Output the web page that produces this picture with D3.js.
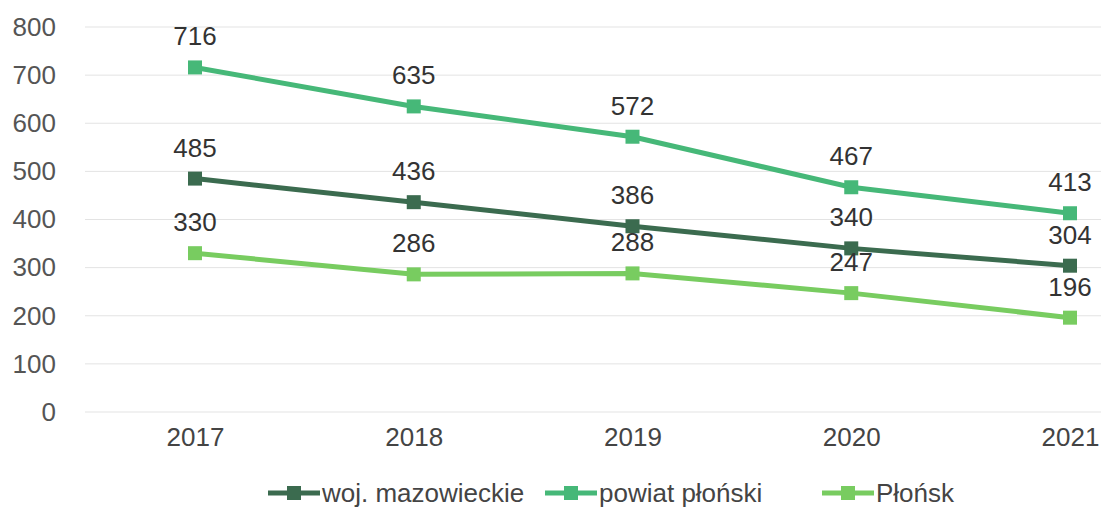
<!DOCTYPE html>
<html>
<head>
<meta charset="utf-8">
<script src="https://cdn.jsdelivr.net/npm/d3@7"></script>
<style>
  body { margin: 0; background: #fff; }
  svg { font-family: "Liberation Sans", Arial, sans-serif; }
</style>
</head>
<body>
<div id="chart"></div>
<script>
var years = ["2017", "2018", "2019", "2020", "2021"];
var seriesNames = ["woj. mazowieckie", "powiat płoński", "Płońsk"];
var wojValues = [485, 436, 386, 340, 304];
var powiatValues = [716, 635, 572, 467, 413];
var plonskValues = [330, 286, 288, 247, 196];
var yTicks = [0, 100, 200, 300, 400, 500, 600, 700, 800];

var colors = ["#3b6b4f", "#46b878", "#78cc60"];
var allValues = [wojValues, powiatValues, plonskValues];

var W = 1101, H = 510;
var plotLeft = 85, plotRight = 1101;
var plotTop = 27, plotBottom = 412;
var fontSize = "26px";

var x = d3.scalePoint()
	.domain(years)
	.range([195, 1070]);
var y = d3.scaleLinear()
	.domain([0, 800])
	.range([plotBottom, plotTop]);

var svg = d3.select("#chart").append("svg")
	.attr("width", W)
	.attr("height", H);

// Gridlines
svg.append("g").selectAll("line")
	.data(yTicks)
	.enter()
	.append("line")
	.attr("x1", plotLeft)
	.attr("x2", plotRight)
	.attr("y1", function(d) { return y(d); })
	.attr("y2", function(d) { return y(d); })
	.style("stroke", "#e3e3e3")
	.style("stroke-width", 1);

// Y axis labels
var yAxis = svg.append("g")
	.attr("transform", "translate(56,0)")
	.call(d3.axisLeft(y).tickValues(yTicks).tickSize(0).tickPadding(0));
yAxis.select(".domain").remove();
yAxis.selectAll("text")
	.style("font-size", fontSize)
	.style("fill", "#555")
	.style("font-family", "Liberation Sans, Arial, sans-serif");

// X axis labels
var xAxis = svg.append("g")
	.attr("transform", "translate(0," + (plotBottom + 10) + ")")
	.call(d3.axisBottom(x).tickSize(0).tickPadding(6));
xAxis.select(".domain").remove();
xAxis.selectAll("text")
	.style("font-size", fontSize)
	.style("fill", "#444")
	.style("font-family", "Liberation Sans, Arial, sans-serif");

var line = d3.line()
	.x(function(d, i) { return x(years[i]); })
	.y(function(d) { return y(d); });

// Lines, markers and value labels
allValues.forEach(function(vals, s) {
	var g = svg.append("g");
	g.append("path")
		.attr("fill", "none")
		.attr("stroke", colors[s])
		.attr("stroke-width", 5)
		.attr("d", line(vals));
	g.selectAll("rect")
		.data(vals)
		.enter()
		.append("rect")
		.attr("x", function(d, i) { return x(years[i]) - 7; })
		.attr("y", function(d) { return y(d) - 7; })
		.attr("width", 14)
		.attr("height", 14)
		.attr("fill", colors[s]);
	g.selectAll("text")
		.data(vals)
		.enter()
		.append("text")
		.attr("x", function(d, i) { return x(years[i]); })
		.attr("y", function(d) { return y(d) - 22; })
		.attr("text-anchor", "middle")
		.style("font-size", fontSize)
		.style("fill", "#333")
		.text(function(d) { return d; });
});

// Legend
var legendX = [268, 545, 822];
var legend = svg.append("g")
	.attr("transform", "translate(0,493)");
seriesNames.forEach(function(name, s) {
	var item = legend.append("g")
		.attr("transform", "translate(" + legendX[s] + ",0)");
	item.append("line")
		.attr("x1", 0)
		.attr("x2", 52)
		.attr("y1", 0)
		.attr("y2", 0)
		.attr("stroke", colors[s])
		.attr("stroke-width", 5);
	item.append("rect")
		.attr("x", 19)
		.attr("y", -7)
		.attr("width", 14)
		.attr("height", 14)
		.attr("fill", colors[s]);
	item.append("text")
		.attr("x", 54)
		.attr("y", 9)
		.style("font-size", fontSize)
		.style("fill", "#444")
		.text(name);
});
</script>
</body>
</html>
